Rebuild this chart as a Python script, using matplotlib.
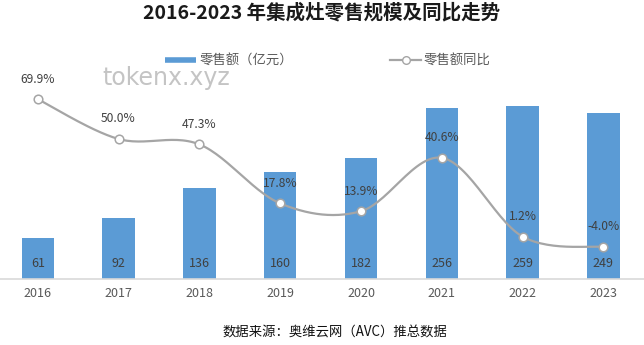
import numpy as np
import matplotlib.pyplot as plt
from matplotlib.lines import Line2D

plt.rcParams['font.family'] = ['Noto Sans CJK SC', 'DejaVu Sans']

years = ['2016', '2017', '2018', '2019', '2020', '2021', '2022', '2023']
retail = [61, 92, 136, 160, 182, 256, 259, 249]          # 零售额（亿元）
yoy = [69.9, 50.0, 47.3, 17.8, 13.9, 40.6, 1.2, -4.0]     # 零售额同比 (%)

bar_color = '#5B9BD5'
line_color = '#A5A5A5'
text_color = '#404040'


def smooth_curve(xs, ys, steps=30):
    # Catmull-Rom through the points, like a spreadsheet "smoothed line"
    pts = np.column_stack([xs, ys]).astype(float)
    pts = np.vstack([pts[0], pts, pts[-1]])
    out = []
    t = np.linspace(0, 1, steps)[:, None]
    for i in range(1, len(pts) - 2):
        p0, p1, p2, p3 = pts[i - 1], pts[i], pts[i + 1], pts[i + 2]
        c1 = p1 + (p2 - p0) / 6
        c2 = p2 - (p3 - p1) / 6
        seg = ((1 - t) ** 3) * p1 + 3 * ((1 - t) ** 2) * t * c1 + 3 * (1 - t) * t ** 2 * c2 + t ** 3 * p2
        out.append(seg)
    out = np.vstack(out)
    return out[:, 0], out[:, 1]


fig = plt.figure(figsize=(6.44, 3.45), dpi=100)
ax = fig.add_axes([-2.6 / 644, 66 / 345, 646.4 / 644, 200 / 345])
x = np.arange(len(years))

ax.bar(x, retail, width=0.4, color=bar_color, zorder=2)
ax.set_ylim(0, 300)
ax.set_xlim(-0.5, 7.5)
ax.set_yticks([])
ax.set_xticks(x)
ax.set_xticklabels(years, fontsize=9, color='#595959')
ax.tick_params(axis='x', length=0, pad=6)
for side in ['top', 'left', 'right']:
    ax.spines[side].set_visible(False)
ax.spines['bottom'].set_color('#D9D9D9')
ax.spines['bottom'].set_linewidth(1.2)

for xi, v in zip(x, retail):
    ax.annotate(str(v), xy=(xi, 0), xytext=(0, 11.5), textcoords='offset points',
                ha='center', va='center', fontsize=9, color=text_color, zorder=5)

ax2 = ax.twinx()
ax2.set_ylim(-20, 80)
ax2.axis('off')
sx, sy = smooth_curve(x, yoy)
ax2.plot(sx, sy, color=line_color, linewidth=1.6, zorder=3)
ax2.plot(x, yoy, linestyle='none', marker='o', markersize=6.2,
         markerfacecolor='white', markeredgecolor=line_color, markeredgewidth=1.1, zorder=4)
for xi, v in zip(x, yoy):
    ax2.annotate(f'{v:.1f}%', xy=(xi, v), xytext=(0, 14.5), textcoords='offset points',
                 ha='center', va='center', fontsize=8.7, color=text_color)

fig.text(0.5, 1 - 13 / 345, '2016-2023 年集成灶零售规模及同比走势',
         ha='center', va='center', fontsize=14, fontweight='bold', color='#1a1a1a')
fig.text(334.5 / 644, 1 - 333 / 345, '数据来源：奥维云网（AVC）推总数据',
         ha='center', va='center', fontsize=9.6, color='#111111')
fig.text(102 / 644, 1 - 78 / 345, 'tokenx.xyz', ha='left', va='center',
         fontsize=17, color='#C4C4C4', family='DejaVu Sans')

handles = [Line2D([], [], color=bar_color, linewidth=4, solid_capstyle='butt'),
           Line2D([], [], color=line_color, linewidth=1.6, marker='o', markersize=5.5,
                  markerfacecolor='white', markeredgecolor=line_color)]
fig.legend(handles, ['零售额（亿元）', '零售额同比'], loc='center',
           bbox_to_anchor=(328 / 644, 1 - 61 / 345), ncol=2, frameon=False,
           fontsize=9.6, handlelength=2.35, handletextpad=0.2, columnspacing=7.3,
           labelcolor='#595959')

fig.savefig('out.png', dpi=100)
